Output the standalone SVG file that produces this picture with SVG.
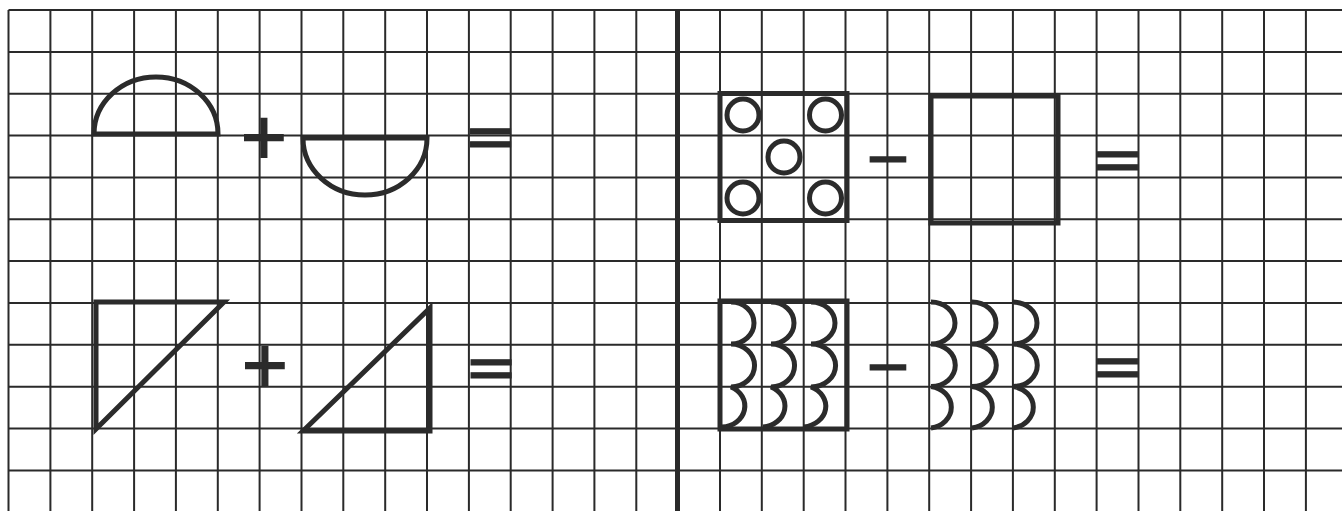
<svg xmlns="http://www.w3.org/2000/svg" width="1342" height="511" viewBox="0 0 1342 511">
<style>
.grid{stroke:#2a2a2a;stroke-width:2;fill:none}
.fig{stroke:#2b2b2b;stroke-width:5;fill:none;stroke-linejoin:miter}
.sym{font-family:"DejaVu Sans",sans-serif;fill:#2b2b2b;stroke:#2b2b2b;text-anchor:middle}
.plus{stroke-width:2.2}
.minus{stroke-width:1.6}
.eq{stroke-width:1}
</style>
<rect x="0" y="0" width="1342" height="511" fill="#ffffff"/>
<g id="grid">
<path class="grid" d="M8.5,10V511 M50.4,10V511 M92.2,10V511 M134.1,10V511 M175.9,10V511 M217.8,10V511 M259.6,10V511 M301.5,10V511 M343.3,10V511 M385.2,10V511 M427,10V511 M468.9,10V511 M510.7,10V511 M552.6,10V511 M594.4,10V511 M636.3,10V511 M720,10V511 M761.8,10V511 M803.7,10V511 M845.5,10V511 M887.4,10V511 M929.2,10V511 M971.1,10V511 M1012.9,10V511 M1054.8,10V511 M1096.6,10V511 M1138.5,10V511 M1180.3,10V511 M1222.2,10V511 M1264,10V511 M1305.9,10V511
M8.5,10H1342 M8.5,51.9H1342 M8.5,93.7H1342 M8.5,135.6H1342 M8.5,177.4H1342 M8.5,219.3H1342 M8.5,261.1H1342 M8.5,303H1342 M8.5,344.8H1342 M8.5,386.7H1342 M8.5,428.5H1342 M8.5,470.4H1342"/>
<line x1="677.5" y1="10" x2="677.5" y2="511" stroke="#2a2a2a" stroke-width="5"/>
</g>
<g id="dome">
<path class="fig" d="M94,134 A62,57 0 0 1 218,134 Z"/>
</g>
<text id="plus1" class="sym plus" x="264" y="157" font-size="60">+</text>
<g id="bowl">
<path class="fig" d="M303,138 A62,57 0 0 0 427,138 Z"/>
</g>
<text id="eq1" class="sym eq" x="490.5" y="158" font-size="64">=</text>
<g id="triangle1">
<polygon class="fig" points="96,302 224,302 96,429"/>
</g>
<text id="plus2" class="sym plus" x="265" y="385" font-size="60">+</text>
<g id="triangle2">
<polygon class="fig" points="303,431 430,308 430,431"/>
</g>
<text id="eq2" class="sym eq" x="491" y="389" font-size="64">=</text>
<g id="dotted-square">
<rect class="fig" x="720" y="93.5" width="127" height="127"/>
<circle class="fig" cx="743" cy="115" r="16"/>
<circle class="fig" cx="825.5" cy="115" r="16"/>
<circle class="fig" cx="784" cy="157" r="16"/>
<circle class="fig" cx="743" cy="198" r="16"/>
<circle class="fig" cx="825.5" cy="198" r="16"/>
</g>
<text id="minus1" class="sym minus" x="888" y="177" font-size="56">−</text>
<g id="plain-square">
<rect class="fig" x="931" y="96" width="127" height="127" stroke-width="5.5"/>
</g>
<text id="eq3" class="sym eq" x="1117.5" y="180.5" font-size="64">=</text>
<g id="scalloped-square">
<rect class="fig" x="720" y="301" width="127" height="128"/>
<path class="fig" d="M731,302 A23,21 0 0 1 731,344 A23,21 0 0 1 731,387 A24,21 0 0 1 722,427"/>
<path class="fig" d="M771,302 A23,21 0 0 1 771,344 A23,21 0 0 1 771,387 A24,21 0 0 1 763,427"/>
<path class="fig" d="M811,302 A24,21 0 0 1 811,344 A24,21 0 0 1 811,387 A25,21 0 0 1 804,427"/>
</g>
<text id="minus2" class="sym minus" x="888" y="384.5" font-size="56">−</text>
<g id="scallops">
<path class="fig" d="M931,302 A24,21 0 0 1 931,344 A24,21 0 0 1 931,386.5 A24,21 0 0 1 931,428"/>
<path class="fig" d="M972,302 A24,21 0 0 1 972,344 A24,21 0 0 1 972,386.5 A24,21 0 0 1 972,428"/>
<path class="fig" d="M1013,302 A24,21 0 0 1 1013,344 A24,21 0 0 1 1013,386.5 A24,21 0 0 1 1013,428"/>
</g>
<text id="eq4" class="sym eq" x="1117.5" y="387.5" font-size="64">=</text>
</svg>
